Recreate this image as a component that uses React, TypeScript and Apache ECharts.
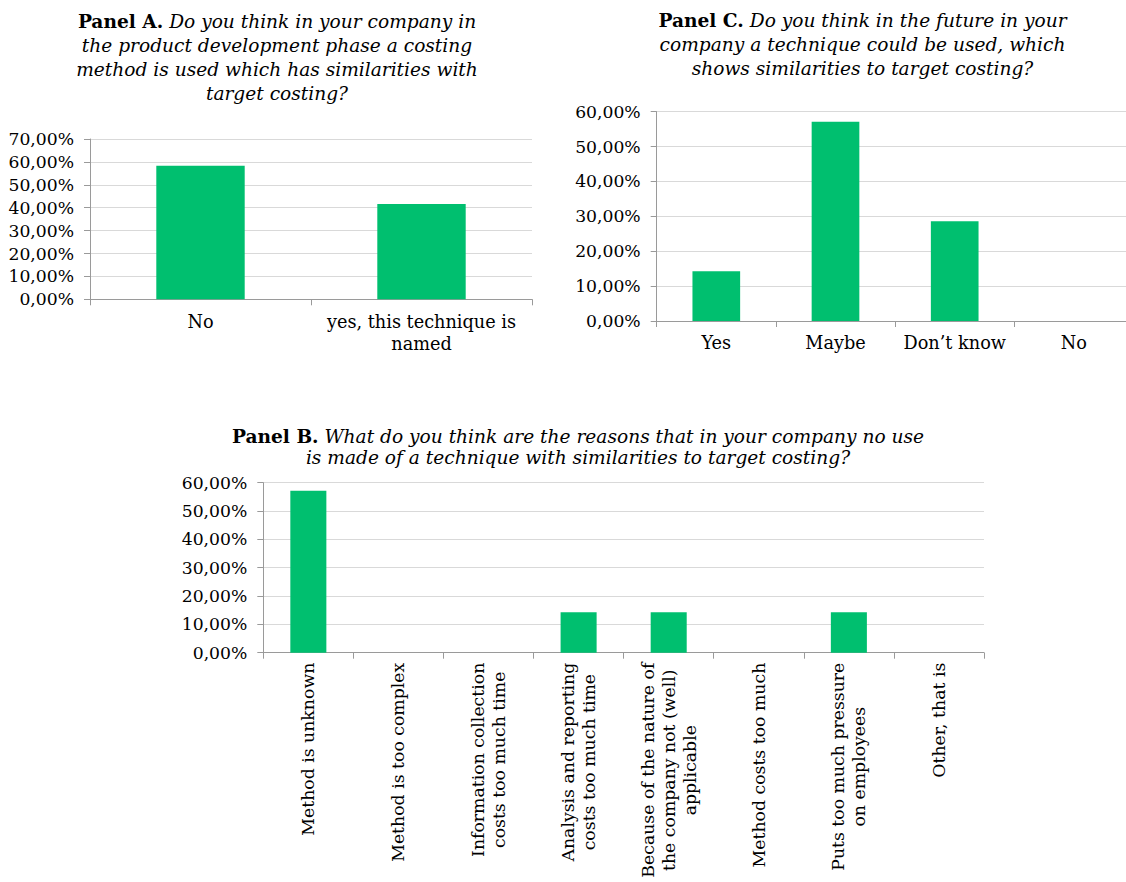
import React, { useEffect, useRef } from "react";
import * as echarts from "echarts";

const panelACategories = ["No", "yes, this technique is\nnamed"];
const panelAValues = [58.33, 41.67];

const panelCCategories = ["Yes", "Maybe", "Don’t know", "No"];
const panelCValues = [14.29, 57.14, 28.57, 0];

const panelBCategories = [
  "Method is unknown",
  "Method is too complex",
  "Information collection\ncosts too much time",
  "Analysis and reporting\ncosts too much time",
  "Because of the nature of\nthe company not (well)\napplicable",
  "Method costs too much",
  "Puts too much pressure\non employees",
  "Other, that is",
];
const panelBValues = [57.14, 0, 0, 14.29, 14.29, 0, 14.29, 0];

const titleA = [
  ["Panel A.", "Do you think in your company in"],
  ["", "the product development phase a costing"],
  ["", "method is used which has similarities with"],
  ["", "target costing?"],
];
const titleC = [
  ["Panel C.", "Do you think in the future in your"],
  ["", "company a technique could be used, which"],
  ["", "shows similarities to target costing?"],
];
const titleB = [
  ["Panel B.", "What do you think are the reasons that in your company no use"],
  ["", "is made of a technique with similarities to target costing?"],
];

const FONT = '"DejaVu Serif", "Liberation Serif", serif';
const GREEN = "#00BF6F";
const AXIS = "#9a9a9a";
const GRID = "#d9d9d9";
const TITLE_FS = 18.6;
const TICK_FS = 17.2;
const CAT_FS = 17.7;
const ROT_FS = 17.3;

function pct(v: number) {
  return v.toFixed(2).replace(".", ",") + "%";
}

function titleText(lines: string[][]) {
  return lines
    .map(([b, i]) => (b ? `{b|${b}} {i|${i}}` : `{i|${i}}`))
    .join("\n");
}

export default function App() {
  const ref = useRef<HTMLDivElement>(null);
  useEffect(() => {
    if (!ref.current) return;
    const chart = echarts.init(ref.current, undefined, { renderer: "svg" });
    const titleRich = (fs: number, lh: number) => ({
      b: { fontFamily: FONT, fontSize: fs, fontWeight: "bold", fontStyle: "normal", lineHeight: lh, fill: "#000" },
      i: { fontFamily: FONT, fontSize: fs, fontWeight: "normal", fontStyle: "italic", lineHeight: lh, fill: "#000" },
    });
    const yAxisBase = (max: number) => ({
      type: "value" as const,
      min: 0,
      max,
      interval: 10,
      axisLine: { show: true, lineStyle: { color: AXIS, width: 1 } },
      axisTick: { show: true, length: 6, lineStyle: { color: AXIS } },
      splitLine: { show: true, lineStyle: { color: GRID, width: 1 } },
      axisLabel: {
        formatter: (v: number) => pct(v),
        fontFamily: FONT,
        fontSize: TICK_FS,
        color: "#000",
        margin: 16,
      },
    });
    const xAxisBase = (cats: string[], gridIndex: number, margin: number) => ({
      type: "category" as const,
      gridIndex,
      data: cats,
      axisLine: { show: true, lineStyle: { color: AXIS, width: 1 } },
      axisTick: { show: true, length: 6, alignWithLabel: false, lineStyle: { color: AXIS } },
      axisLabel: {
        interval: 0,
        fontFamily: FONT,
        fontSize: CAT_FS,
        lineHeight: 22,
        color: "#000",
        margin,
      },
    });
    const titleGraphic = (lines: string[][], x: number, y: number, lh: number) => ({
      type: "text",
      x,
      y,
      style: {
        text: titleText(lines),
        rich: titleRich(TITLE_FS, lh),
        fontFamily: FONT,
        fontSize: TITLE_FS,
        lineHeight: lh,
        align: "center",
        verticalAlign: "top",
        fill: "#000",
      },
    });
    chart.setOption({
      animation: false,
      backgroundColor: "#fff",
      grid: [
        { left: 90, top: 139, width: 442, height: 160.3, outerBoundsMode: "none", containLabel: false },
        { left: 656.7, top: 111.7, width: 476.8, height: 209.3, outerBoundsMode: "none", containLabel: false },
        { left: 263.3, top: 482.7, width: 720.7, height: 170, outerBoundsMode: "none", containLabel: false },
      ],
      xAxis: [
        xAxisBase(panelACategories, 0, 12),
        xAxisBase(panelCCategories, 1, 11),
        {
          ...xAxisBase(panelBCategories, 2, 12),
          axisLabel: {
            interval: 0,
            rotate: 90,
            margin: 10,
            color: "#000",
            fontFamily: FONT,
            fontSize: ROT_FS,
            lineHeight: 21,
            formatter: (v: string) =>
              v
                .split("\n")
                .map((l) => `{c|${l}}`)
                .join("\n"),
            rich: {
              c: { align: "center", fontFamily: FONT, fontSize: ROT_FS, lineHeight: 21, color: "#000" },
            },
          },
        },
      ],
      yAxis: [
        { ...yAxisBase(70), gridIndex: 0 },
        { ...yAxisBase(60), gridIndex: 1 },
        { ...yAxisBase(60), gridIndex: 2 },
      ],
      series: [
        { type: "bar", xAxisIndex: 0, yAxisIndex: 0, data: panelAValues, barWidth: "40%", itemStyle: { color: GREEN } },
        { type: "bar", xAxisIndex: 1, yAxisIndex: 1, data: panelCValues, barWidth: "40%", itemStyle: { color: GREEN } },
        { type: "bar", xAxisIndex: 2, yAxisIndex: 2, data: panelBValues, barWidth: "40%", itemStyle: { color: GREEN } },
      ],
      graphic: [
        titleGraphic(titleA, 277, 10, 23.8),
        titleGraphic(titleC, 862.5, 8, 24),
        titleGraphic(titleB, 578, 425.5, 21),
      ],
    });
    return () => chart.dispose();
  }, []);
  return (
    <div
      ref={ref}
      style={{ position: "absolute", left: 0, top: 0, width: 1126, height: 882 }}
    />
  );
}
